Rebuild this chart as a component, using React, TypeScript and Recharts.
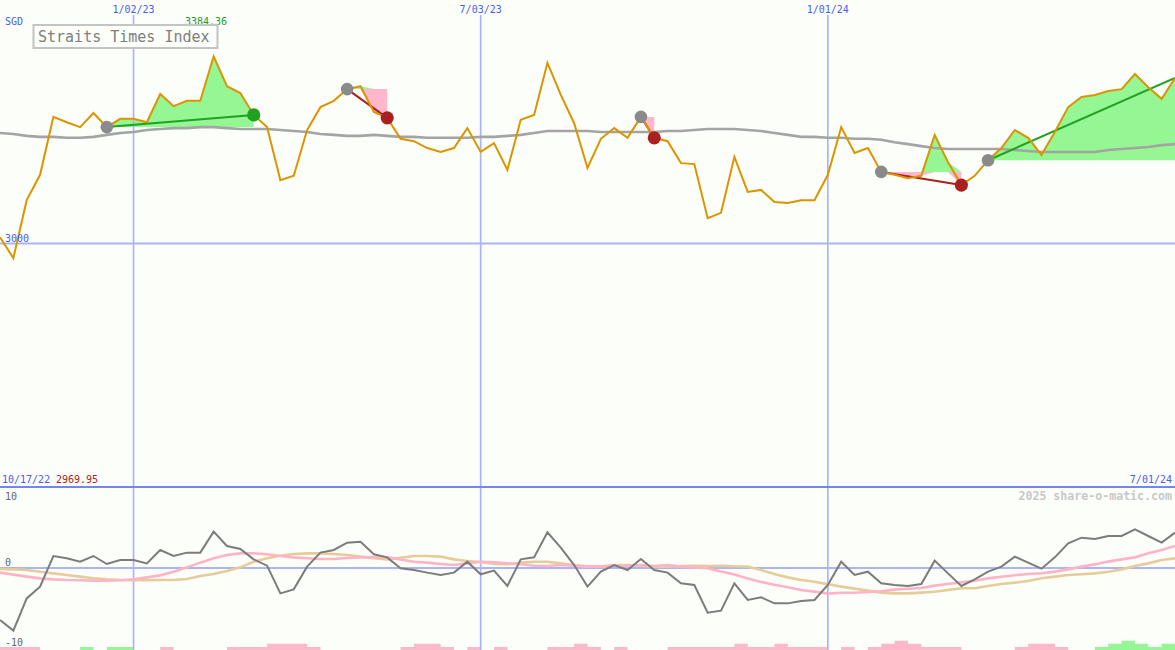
import React from 'react';
import { ComposedChart, Line, Area, Scatter, XAxis, YAxis, ReferenceLine } from 'recharts';

const BG = '#fcfef9';
const FONT = '"DejaVu Sans Mono", monospace';

// weekly closes (index 0 = 10/17/22 ... index 88 = 7/01/24)
const price = [
  3013, 2969.95, 3089, 3141, 3260, 3249, 3239, 3268, 3239, 3256,
  3256, 3249, 3307, 3282, 3293, 3293, 3384.36, 3323, 3309, 3264,
  3239, 3130, 3139, 3233, 3280, 3293, 3317, 3323, 3270, 3258,
  3215, 3210, 3196, 3188, 3196, 3237, 3188, 3206, 3151, 3254,
  3264, 3371, 3305, 3247, 3155, 3215, 3237, 3217, 3260, 3217,
  3210, 3165, 3163, 3052, 3063, 3178, 3106, 3110, 3085, 3083,
  3089, 3089, 3141, 3239, 3186, 3196, 3147, 3141, 3134, 3139,
  3223, 3167, 3120, 3139, 3171, 3196, 3233, 3217, 3182, 3229,
  3280, 3301, 3305, 3313, 3317, 3348, 3321, 3297, 3340,
];

const movingAvg = [
  3227, 3225, 3221, 3219, 3219, 3217, 3217, 3219, 3223, 3227,
  3229, 3233, 3235, 3237, 3237, 3239, 3239, 3237, 3235, 3235,
  3235, 3233, 3231, 3229, 3225, 3223, 3221, 3221, 3223, 3221,
  3219, 3219, 3217, 3217, 3217, 3217, 3219, 3219, 3221, 3223,
  3227, 3231, 3231, 3231, 3231, 3229, 3229, 3229, 3229, 3229,
  3231, 3231, 3233, 3235, 3235, 3235, 3233, 3231, 3227, 3223,
  3219, 3219, 3217, 3217, 3215, 3215, 3213, 3208, 3204, 3200,
  3196, 3194, 3194, 3194, 3194, 3194, 3192, 3190, 3188, 3188,
  3188, 3188, 3188, 3192, 3194, 3196, 3198, 3202, 3204,
];

const momentum = [
  -6.5, -7.83, -3.8, -2.33, 1.5, 1.21, 0.79, 1.5, 0.5, 1.0,
  1.0, 0.58, 2.25, 1.5, 1.92, 1.92, 4.54, 2.75, 2.37, 1.08,
  0.29, -3.17, -2.67, 0.17, 1.92, 2.25, 3.17, 3.29, 1.71, 1.33,
  -0.04, -0.25, -0.58, -0.87, -0.58, 0.79, -0.79, -0.33, -2.25, 1.08,
  1.33, 4.46, 2.54, 0.37, -2.33, -0.46, 0.37, -0.25, 1.12, -0.25,
  -0.58, -1.92, -2.12, -5.58, -5.33, -1.92, -4.0, -3.67, -4.42, -4.42,
  -4.12, -4.0, -2.12, 0.79, -0.87, -0.46, -1.92, -2.12, -2.25, -2.0,
  0.92, -0.67, -2.25, -1.42, -0.46, 0.17, 1.42, 0.67, -0.08, 1.33,
  3.08, 3.79, 3.62, 4.0, 4.0, 4.83, 4.0, 3.17, 4.42,
];

const signalPink = [
  -0.58, -0.83, -1.08, -1.3, -1.42, -1.5, -1.54, -1.58, -1.58, -1.54,
  -1.42, -1.17, -0.92, -0.46, 0.08, 0.67, 1.21, 1.62, 1.83, 1.83,
  1.71, 1.5, 1.33, 1.21, 1.12, 1.12, 1.25, 1.33, 1.37, 1.33,
  1.08, 0.79, 0.67, 0.5, 0.37, 0.58, 0.79, 0.71, 0.58, 0.46,
  0.29, 0.25, 0.37, 0.29, 0.17, 0.17, 0.29, 0.29, 0.37, 0.25,
  0.37, 0.17, 0.08, -0.04, -0.45, -0.8, -1.3, -1.75, -2.1, -2.4,
  -2.75, -2.95, -3.2, -3.1, -3.1, -3.0, -2.9, -2.7, -2.6, -2.5,
  -2.2, -2.0, -1.8, -1.6, -1.3, -1.1, -0.9, -0.75, -0.65, -0.45,
  -0.17, 0.17, 0.45, 0.8, 1.08, 1.33, 1.83, 2.25, 2.75,
];

const signalTan = [
  -0.12, -0.17, -0.25, -0.46, -0.67, -0.88, -1.08, -1.29, -1.42, -1.5,
  -1.54, -1.54, -1.5, -1.5, -1.37, -1.0, -0.75, -0.37, 0.08, 0.79,
  1.21, 1.54, 1.75, 1.83, 1.83, 1.75, 1.62, 1.42, 1.21, 1.08,
  1.29, 1.5, 1.5, 1.42, 1.08, 0.88, 0.75, 0.5, 0.46, 0.67,
  0.79, 0.79, 0.58, 0.37, 0.17, 0.17, 0.37, 0.37, 0.29, 0.17,
  0.17, 0.25, 0.29, 0.25, 0.29, 0.21, 0.17, -0.25, -0.75, -1.17,
  -1.5, -1.71, -2.04, -2.33, -2.58, -2.83, -3.08, -3.17, -3.17, -3.08,
  -2.96, -2.75, -2.54, -2.54, -2.25, -2.0, -1.83, -1.62, -1.29, -1.08,
  -0.88, -0.79, -0.67, -0.46, -0.17, 0.25, 0.58, 1.0, 1.21,
];

const barsPink = [
  1, 1, 1, 0, 0, 0, 0, 0, 0, 0,
  0, 0, 1, 0, 0, 0, 0, 1, 1, 1,
  2, 2, 2, 1, 0, 0, 0, 0, 0, 0,
  1, 2, 2, 1, 0, 1, 0, 1, 0, 0,
  0, 1, 1, 2, 1, 0, 1, 0, 0, 0,
  1, 1, 1, 1, 1, 2, 1, 1, 2, 1,
  1, 1, 0, 1, 0, 1, 2, 3, 2, 1,
  1, 1, 0, 0, 0, 0, 1, 2, 2, 1,
  0, 0, 0, 0, 0, 0, 0, 0, 0,
];

const barsGreen = [
  0, 0, 0, 0, 0, 0, 1, 0, 1, 1,
  0, 0, 0, 0, 0, 0, 0, 0, 0, 0,
  0, 0, 0, 0, 0, 0, 0, 0, 0, 0,
  0, 0, 0, 0, 0, 0, 0, 0, 0, 0,
  0, 0, 0, 0, 0, 0, 0, 0, 0, 0,
  0, 0, 0, 0, 0, 0, 0, 0, 0, 0,
  0, 0, 0, 0, 0, 0, 0, 0, 0, 0,
  0, 0, 0, 0, 0, 0, 0, 0, 0, 0,
  0, 0, 1, 2, 3, 2, 1, 2, 0,
];

// trend segments (start / end week index)
const segStart = [8, 26, 48, 66, 74];
const segEnd = [19, 29, 49, 72, 88];
const endDotIdx = [19, 29, 49, 72];

const tickIdx = [10, 36, 62];
const tickLabels = ['1/02/23', '7/03/23', '1/01/24'];
const startLabel = '10/17/22';
const endLabel = '7/01/24';
const maxLabel = '3384.36';
const minLabel = '2969.95';

const W = 1175;
const X_STEP = W / 88;

const upperRows = price.map((p, i) => {
  const row: any = { i, price: p, ma: movingAvg[i], up: null, down: null };
  segStart.forEach((s, k) => {
    const e = segEnd[k];
    if (i >= s && i <= e) {
      const base = price[s];
      row.up = [base, Math.max(p, base)];
      row.down = [Math.min(p, base), base];
    }
    row['t' + k] = i === s || i === e ? p : null;
  });
  return row;
});

const lowerRows = momentum.map((m, i) => ({
  i,
  mom: m,
  pk: signalPink[i],
  tan: signalTan[i],
  vp: barsPink[i],
  vg: barsGreen[i],
}));

const startDots = segStart.map((s) => ({ i: s, v: price[s] }));
const endDots = endDotIdx.map((e) => {
  const k = segEnd.indexOf(e);
  return { i: e, v: price[e], up: price[e] >= price[segStart[k]] };
});

const GRID = '#a9b5f4';

export default function App() {
  return (
    <div style={{ position: 'absolute', left: 0, top: 0, width: W, height: 650, background: BG, overflow: 'hidden' }}>
      <div style={{ position: 'absolute', left: 0, top: 0 }}>
        <ComposedChart width={W} height={489} data={upperRows} margin={{ top: 0, right: 0, bottom: 2, left: 0 }}>
          <XAxis dataKey="i" type="number" domain={[0, 88]} hide />
          <YAxis type="number" domain={[2500, 3500]} hide />
          {tickIdx.map((t) => (
            <ReferenceLine key={'v' + t} x={t} stroke={GRID} strokeWidth={1.7} />
          ))}
          <ReferenceLine y={3000} stroke={GRID} strokeWidth={2} />
          <ReferenceLine y={2500} stroke="#7585ee" strokeWidth={2} />
          <Area dataKey="up" type="linear" fill="#94f794" fillOpacity={1} stroke="none" activeDot={false} isAnimationActive={false} />
          <Area dataKey="down" type="linear" fill="#ffb7c9" fillOpacity={1} stroke="none" activeDot={false} isAnimationActive={false} />
          <Line dataKey="ma" type="linear" stroke="#a4a4a4" strokeWidth={2.6} dot={false} activeDot={false} isAnimationActive={false} />
          {segStart.map((s, k) => (
            <Line
              key={'t' + k}
              dataKey={'t' + k}
              type="linear"
              connectNulls
              stroke={price[segEnd[k]] >= price[s] ? '#22a022' : '#a82020'}
              strokeWidth={2}
              dot={false}
              activeDot={false}
              isAnimationActive={false}
            />
          ))}
          <Scatter
            data={startDots}
            dataKey="v"
            isAnimationActive={false}
            shape={(p: any) => <circle cx={p.cx} cy={p.cy} r={6.3} fill="#8a8a8a" />}
          />
          <Scatter
            data={endDots}
            dataKey="v"
            isAnimationActive={false}
            shape={(p: any) => (
              <circle cx={p.cx} cy={p.cy} r={6.6} fill={p.payload && p.payload.up ? '#22a022' : '#aa2020'} />
            )}
          />
          <Line dataKey="price" type="linear" stroke="#da9500" strokeWidth={2} dot={false} activeDot={false} isAnimationActive={false} />
        </ComposedChart>
      </div>
      <div style={{ position: 'absolute', left: 0, top: 488 }}>
        <ComposedChart width={W} height={162} data={lowerRows} margin={{ top: 0, right: 0, bottom: 0, left: 0 }}>
          <XAxis dataKey="i" type="number" domain={[0, 88]} hide />
          <YAxis yAxisId="m" type="number" domain={[-10.25, 10]} hide />
          <YAxis yAxisId="v" type="number" domain={[0, 52]} hide />
          {tickIdx.map((t) => (
            <ReferenceLine key={'lv' + t} yAxisId="m" x={t} stroke={GRID} strokeWidth={1.7} />
          ))}
          <ReferenceLine yAxisId="m" y={0} stroke={GRID} strokeWidth={2} />
          <Area yAxisId="v" dataKey="vp" type="stepAfter" fill="#ffb7c9" fillOpacity={1} stroke="none" activeDot={false} isAnimationActive={false} />
          <Area yAxisId="v" dataKey="vg" type="stepAfter" fill="#94f794" fillOpacity={1} stroke="none" activeDot={false} isAnimationActive={false} />
          <Line yAxisId="m" dataKey="tan" type="linear" stroke="#e6cc9a" strokeWidth={2.6} dot={false} activeDot={false} isAnimationActive={false} />
          <Line yAxisId="m" dataKey="pk" type="linear" stroke="#ffb3c6" strokeWidth={2.6} dot={false} activeDot={false} isAnimationActive={false} />
          <Line yAxisId="m" dataKey="mom" type="linear" stroke="#7c7c7c" strokeWidth={2} dot={false} activeDot={false} isAnimationActive={false} />
        </ComposedChart>
      </div>
      <svg width={W} height={650} style={{ position: 'absolute', left: 0, top: 0, pointerEvents: 'none' }}>
        {tickIdx.map((t, k) => (
          <g key={'lab' + k}>
            <rect x={t * X_STEP - 26} y={0} width={52} height={15} fill={BG} />
            <text x={t * X_STEP} y={13} textAnchor="middle" fontFamily={FONT} fontSize={10} fill="#4a5cf0">
              {tickLabels[k]}
            </text>
          </g>
        ))}
        <text x={5} y={25} fontFamily={FONT} fontSize={10} fill="#4a5cf0">SGD</text>
        <text x={206} y={25} textAnchor="middle" fontFamily={FONT} fontSize={10} fill="#229922">{maxLabel}</text>
        <rect x={33.5} y={25} width={184} height={23} fill={BG} stroke="#c4c4c4" strokeWidth={2} />
        <text x={38} y={41.5} fontFamily={FONT} fontSize={15} fill="#7e7e7e">Straits Times Index</text>
        <text x={5} y={241.5} fontFamily={FONT} fontSize={10} fill="#4a5cf0">3000</text>
        <text x={2} y={483} fontFamily={FONT} fontSize={10} fill="#4a5cf0">{startLabel}</text>
        <text x={56} y={483} fontFamily={FONT} fontSize={10} fill="#aa2222">{minLabel}</text>
        <text x={1172} y={483} textAnchor="end" fontFamily={FONT} fontSize={10} fill="#4a5cf0">{endLabel}</text>
        <text x={1172} y={500} textAnchor="end" fontFamily={FONT} fontSize={11.6} fontWeight="bold" fill="#c8c8c8">
          2025 share-o-matic.com
        </text>
        <text x={5} y={500} fontFamily={FONT} fontSize={10} fill="#666">10</text>
        <text x={5} y={566} fontFamily={FONT} fontSize={10} fill="#666">0</text>
        <text x={5} y={646} fontFamily={FONT} fontSize={10} fill="#666">-10</text>
      </svg>
    </div>
  );
}
